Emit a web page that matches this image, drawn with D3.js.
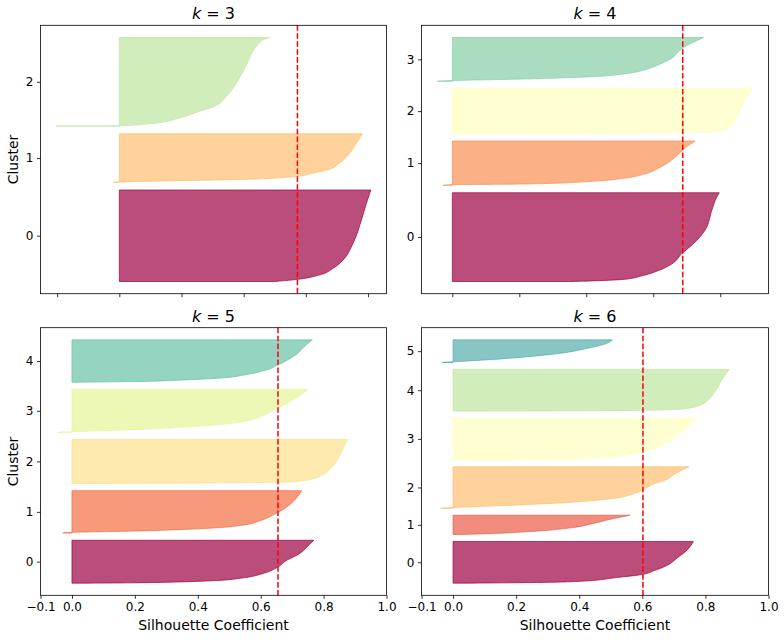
<!DOCTYPE html>
<html>
<head>
<meta charset="utf-8">
<script src="https://cdn.jsdelivr.net/npm/d3@7"></script>
<style>
  body { margin: 0; background: #fff; }
  text { font-family: "DejaVu Sans", sans-serif; fill: #000; }
</style>
</head>
<body>
<div id="chart"></div>
<script>
// number of clusters per panel and the mean silhouette score (red line)
var ks = [3, 4, 5, 6];
var scores = [0.573, 0.688, 0.655, 0.602];

// samples per cluster (2000 samples in total)
var sizes3 = [800, 425, 775];
var sizes4 = [800, 400, 405, 395];
var sizes5 = [400, 395, 410, 400, 395];
var sizes6 = [400, 185, 398, 400, 400, 217];

// sorted silhouette coefficients, read off the picture as
// [fraction of the cluster from its bottom, coefficient]
var curves3 = [
  [[0, 0.50], [0.018, 0.559], [0.073, 0.645], [0.145, 0.688], [0.236, 0.72], [0.418, 0.752], [0.673, 0.779], [0.855, 0.795], [1, 0.809]],
  [[0, -0.02], [0.014, 0.045], [0.055, 0.366], [0.123, 0.57], [0.19, 0.623], [0.26, 0.671], [0.40, 0.709], [0.60, 0.741], [0.81, 0.763], [1, 0.782]],
  [[0, -0.203], [0.004, 0.0], [0.026, 0.099], [0.094, 0.195], [0.169, 0.259], [0.217, 0.302], [0.337, 0.345], [0.487, 0.377], [0.693, 0.409], [0.899, 0.441], [0.974, 0.463], [1, 0.482]]
];
var curves4 = [
  [[0, 0.35], [0.007, 0.417], [0.026, 0.517], [0.064, 0.566], [0.124, 0.616], [0.199, 0.656], [0.318, 0.686], [0.412, 0.716], [0.581, 0.755], [0.805, 0.775], [0.955, 0.79], [1, 0.797]],
  [[0, -0.028], [0.015, 0.0], [0.03, 0.219], [0.09, 0.417], [0.164, 0.517], [0.26, 0.576], [0.388, 0.616], [0.522, 0.646], [0.709, 0.676], [0.851, 0.696], [1, 0.725]],
  [[0, 0.02], [0.007, 0.219], [0.015, 0.517], [0.029, 0.765], [0.088, 0.815], [0.19, 0.835], [0.394, 0.85], [0.613, 0.865], [0.796, 0.879], [1, 0.897]],
  [[0, -0.045], [0.015, 0.0], [0.053, 0.219], [0.098, 0.398], [0.174, 0.517], [0.265, 0.576], [0.379, 0.616], [0.53, 0.656], [0.682, 0.676], [0.795, 0.696], [0.909, 0.725], [1, 0.75]]
];
var curves5 = [
  [[0, 0.05], [0.008, 0.197], [0.062, 0.462], [0.115, 0.536], [0.231, 0.61], [0.369, 0.653], [0.538, 0.684], [0.654, 0.716], [0.769, 0.737], [0.923, 0.758], [1, 0.769]],
  [[0, -0.029], [0.016, 0.0], [0.047, 0.197], [0.086, 0.356], [0.125, 0.462], [0.18, 0.536], [0.297, 0.60], [0.4375, 0.642], [0.57, 0.674], [0.6875, 0.695], [0.805, 0.711], [1, 0.73]],
  [[0, 0.02], [0.0075, 0.303], [0.038, 0.706], [0.113, 0.769], [0.188, 0.796], [0.338, 0.822], [0.526, 0.843], [0.752, 0.859], [1, 0.875]],
  [[0, -0.044], [0.015, 0.0], [0.062, 0.197], [0.123, 0.356], [0.177, 0.462], [0.254, 0.547], [0.369, 0.60], [0.523, 0.642], [0.638, 0.674], [0.769, 0.706], [1, 0.75]],
  [[0, 0.02], [0.016, 0.197], [0.054, 0.356], [0.093, 0.462], [0.171, 0.547], [0.271, 0.61], [0.403, 0.653], [0.519, 0.684], [0.674, 0.716], [0.829, 0.737], [1, 0.764]]
];
var curves6 = [
  [[0, 0.05], [0.008, 0.177], [0.039, 0.388], [0.14, 0.526], [0.195, 0.589], [0.3125, 0.642], [0.453, 0.685], [0.609, 0.711], [0.766, 0.738], [1, 0.762]],
  [[0, 0.02], [0.05, 0.124], [0.136, 0.23], [0.356, 0.378], [0.559, 0.441], [0.814, 0.505], [1, 0.561]],
  [[0, -0.04], [0.016, 0.0], [0.087, 0.23], [0.151, 0.388], [0.222, 0.494], [0.365, 0.579], [0.484, 0.611], [0.603, 0.642], [0.683, 0.674], [0.841, 0.706], [1, 0.748]],
  [[0, 0.02], [0.016, 0.335], [0.055, 0.494], [0.142, 0.568], [0.236, 0.632], [0.394, 0.674], [0.551, 0.706], [0.748, 0.738], [1, 0.769]],
  [[0, 0.02], [0.008, 0.441], [0.039, 0.706], [0.087, 0.759], [0.165, 0.79], [0.299, 0.812], [0.496, 0.833], [0.772, 0.854], [1, 0.875]],
  [[0, -0.035], [0.029, 0.0], [0.13, 0.124], [0.246, 0.23], [0.42, 0.347], [0.609, 0.42], [0.826, 0.484], [1, 0.505]]
];

// x ticks shown on the bottom row
var bottomTicks = [-0.1, 0, 0.2, 0.4, 0.6, 0.8, 1.0];

var allSizes = [sizes3, sizes4, sizes5, sizes6];
var allCurves = [curves3, curves4, curves5, curves6];

// matplotlib "Spectral" colormap stops
var spectralStops = ["#9e0142", "#d53e4f", "#f46d43", "#fdae61", "#fee08b", "#ffffbf",
  "#e6f598", "#abdda4", "#66c2a5", "#3288bd", "#5e4fa2"];
var spectralScale = d3.scaleLinear()
  .domain(d3.range(11).map(i => i / 10))
  .range(spectralStops)
  .interpolate(d3.interpolateRgb);
function spectral(t) {
  var idx = Math.min(255, Math.floor(t * 256)); // 256-entry lut like mpl
  return spectralScale(idx / 255);
}

var svgWidth = 784;
var svgHeight = 640;

var svg = d3.select("#chart")
  .append("svg")
  .attr("width", svgWidth)
  .attr("height", svgHeight);

// axes boxes (pixel positions of each subplot)
var boxes = [
  {x: 40.5, y: 25.3, w: 346, h: 268.4},
  {x: 421.5, y: 25.3, w: 347, h: 268.4},
  {x: 40.5, y: 327.7, w: 346, h: 267.6},
  {x: 421.5, y: 327.7, w: 347, h: 267.6}
];

function drawPanel(i) {
  var k = ks[i];
  var sizes = allSizes[i];
  var curves = allCurves[i];
  var box = boxes[i];
  var isBottom = i >= 2;

  var g = svg.append("g")
    .attr("transform", `translate(${box.x}, ${box.y})`);

  // stack clusters with a gap, like the original fill_betweenx loop
  var padding = Math.floor(d3.sum(sizes) / 30);
  var pos = padding;
  var starts = [];
  var tickPos = [];
  sizes.forEach(function(n) {
    starts.push(pos);
    tickPos.push(pos + Math.floor(n / 2));
    pos += n + padding;
  });

  var yLo = starts[0];
  var yHi = starts[k - 1] + sizes[k - 1] - 1;
  var yPad = (yHi - yLo) * 0.05;
  var yScale = d3.scaleLinear()
    .domain([yLo - yPad, yHi + yPad])
    .range([box.h, 0]);

  var xScale;
  if (isBottom) {
    xScale = d3.scaleLinear().domain([-0.1, 1.0]).range([0, box.w]);
  } else {
    var vals = [0];
    curves.forEach(c => c.forEach(d => vals.push(d[1])));
    var xLo = d3.min(vals), xHi = d3.max(vals);
    var xPad = (xHi - xLo) * 0.05;
    xScale = d3.scaleLinear().domain([xLo - xPad, xHi + xPad]).range([0, box.w]);
  }

  // silhouettes
  curves.forEach(function(c, ci) {
    var n = sizes[ci];
    var start = starts[ci];
    var color = spectral(ci / k);
    var area = d3.area()
      .curve(d3.curveMonotoneY)
      .y(d => yScale(start + d[0] * (n - 1)))
      .x0(xScale(0))
      .x1(d => xScale(d[1]));
    g.append("path")
      .datum(c)
      .attr("d", area)
      .attr("fill", color)
      .attr("fill-opacity", 0.7)
      .attr("stroke", color)
      .attr("stroke-opacity", 0.7)
      .attr("stroke-width", 1);
  });

  // mean silhouette score
  g.append("line")
    .attr("x1", xScale(scores[i]))
    .attr("x2", xScale(scores[i]))
    .attr("y1", 0)
    .attr("y2", box.h)
    .attr("stroke", "red")
    .attr("stroke-width", 1.5)
    .attr("stroke-dasharray", "5.55,2.4");

  // x axis
  var bottomAxis = d3.axisBottom(xScale)
    .tickSize(3.5)
    .tickPadding(3.5);
  if (isBottom) {
    bottomAxis.tickValues(bottomTicks).tickFormat(d3.format(".1f"));
  } else {
    bottomAxis.ticks(5).tickFormat("");
  }
  var xAxis = g.append("g")
    .attr("transform", `translate(0, ${box.h})`)
    .call(bottomAxis);

  // y axis, labelled with the cluster index
  var leftAxis = d3.axisLeft(yScale)
    .tickValues(tickPos)
    .tickFormat((d, j) => j)
    .tickSize(3.5)
    .tickPadding(3.5);
  var yAxis = g.append("g").call(leftAxis);

  [xAxis, yAxis].forEach(function(ax) {
    ax.select(".domain").remove();
    ax.selectAll(".tick line").attr("stroke", "#000").attr("stroke-width", 0.8);
    ax.selectAll(".tick text")
      .attr("font-family", "DejaVu Sans")
      .attr("font-size", 12)
      .attr("fill", "#000");
  });

  // frame
  g.append("rect")
    .attr("width", box.w)
    .attr("height", box.h)
    .attr("fill", "none")
    .attr("stroke", "#000")
    .attr("stroke-width", 0.8);

  // title k = n
  var title = g.append("text")
    .attr("x", box.w / 2)
    .attr("y", -6)
    .attr("text-anchor", "middle")
    .attr("font-size", 16);
  title.append("tspan").attr("font-style", "italic").text("k");
  title.append("tspan").text(" = " + k);

  if (k === 3 || k === 5) {
    g.append("text")
      .attr("transform", `translate(${18.3 - box.x}, ${box.h / 2}) rotate(-90)`)
      .attr("text-anchor", "middle")
      .attr("font-size", 14)
      .text("Cluster");
  }
  if (isBottom) {
    g.append("text")
      .attr("x", box.w / 2)
      .attr("y", 630.5 - box.y)
      .attr("text-anchor", "middle")
      .attr("font-size", 14)
      .text("Silhouette Coefficient");
  }
}

ks.forEach(function(k, i) { drawPanel(i); });
</script>
</body>
</html>
